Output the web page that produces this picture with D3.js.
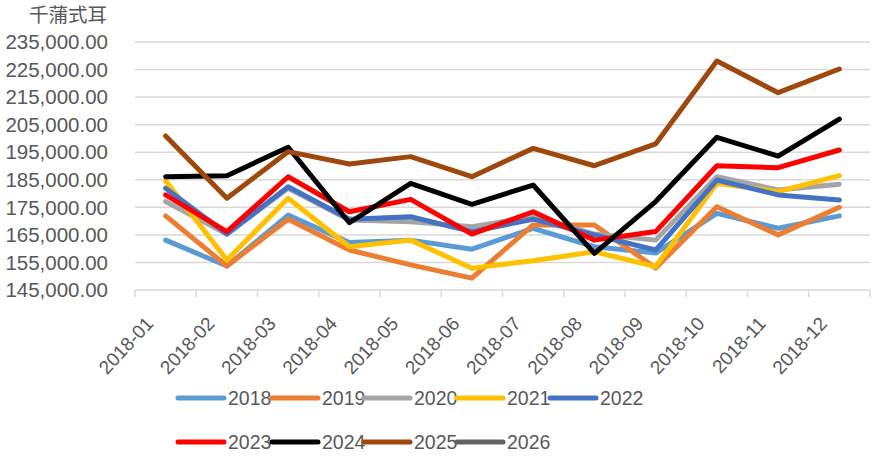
<!DOCTYPE html>
<html>
<head>
<meta charset="utf-8">
<script src="https://cdn.jsdelivr.net/npm/d3@7"></script>
<style>
body{margin:0;background:#fff;}
svg text{font-family:"Liberation Sans","Noto Sans CJK SC",sans-serif;fill:#595959;}
</style>
</head>
<body>
<svg id="chart" width="881" height="459"></svg>
<script>
const months = ["2018-01","2018-02","2018-03","2018-04","2018-05","2018-06","2018-07","2018-08","2018-09","2018-10","2018-11","2018-12"];
const yTicks = [145000,155000,165000,175000,185000,195000,205000,215000,225000,235000];
const seriesNames = ["2018","2019","2020","2021","2022","2023","2024","2025","2026"];
const seriesColors = ["#5B9BD5","#ED7D31","#A5A5A5","#FFC000","#4472C4","#FF0000","#000000","#9E480E","#636363"];
const v2018 = [163100,153700,172200,162200,163100,159800,167400,160700,158400,172800,167400,171900];
const v2019 = [171900,153700,170700,159500,154100,149300,168600,168600,153000,175200,165000,175000];
const v2020 = [177100,165300,181900,170400,169800,168000,171600,165300,163100,186100,181300,183400];
const v2021 = [184600,155900,178300,160700,163100,152900,155600,158900,153500,183700,180700,186500];
const v2022 = [181900,165300,182500,170700,171600,166200,170700,165000,159500,184900,179500,177700];
const v2023 = [179500,166200,186100,173400,177900,165300,173400,163100,166200,190100,189400,195800];
const v2024 = [186100,186500,196800,169400,183700,176100,183100,158300,177100,200400,193600,207000];
const v2025 = [200900,178300,195200,190700,193400,186100,196400,190100,198000,228100,216600,225200];
const v2026 = [];
const seriesValues = [v2018,v2019,v2020,v2021,v2022,v2023,v2024,v2025,v2026];
const unitLabel = "千蒲式耳";

(function(){
const svg = d3.select("#chart");
const pL = 135, pR = 870, pT = 42, pB = 290;
const x = d3.scaleBand().domain(months).range([pL, pR]).padding(0);
const y = d3.scaleLinear().domain([145000, 235000]).range([pB, pT]);

svg.append("g").selectAll("line").data(yTicks.slice(1)).join("line")
  .attr("x1", pL).attr("x2", pR)
  .attr("y1", d => y(d)).attr("y2", d => y(d))
  .attr("stroke", "#d9d9d9").attr("stroke-width", 1.5);

const fmt = d3.format(",.2f");
svg.append("g").selectAll("text").data(yTicks).join("text")
  .attr("x", 108).attr("y", d => y(d)).attr("dy", "0.35em")
  .attr("text-anchor", "end").attr("font-size", 20.5)
  .text(d => fmt(d));

svg.append("text").attr("x", 107).attr("y", 22).attr("text-anchor", "end")
  .attr("font-size", 19.5).style("font-family", '"Noto Sans CJK SC",sans-serif')
  .text(unitLabel);

const gx = svg.append("g").attr("transform", `translate(0,${pB})`);
gx.append("line").attr("x1", pL).attr("x2", pR).attr("stroke", "#d9d9d9").attr("stroke-width", 1.5);
const boundaries = months.map(m => x(m)).concat([pR]);
gx.selectAll("line.tk").data(boundaries).join("line").attr("class","tk")
  .attr("x1", d => d).attr("x2", d => d).attr("y1", 0).attr("y2", 7)
  .attr("stroke", "#d9d9d9").attr("stroke-width", 1.5);
gx.selectAll("text").data(months).join("text")
  .attr("transform", d => `translate(${x(d) + x.bandwidth()/2 - 16},${30}) rotate(-47)`)
  .attr("text-anchor", "end").attr("dy", "0.35em").attr("font-size", 19)
  .text(d => d);

const line = d3.line().x((d, i) => x(months[i]) + x.bandwidth()/2).y(d => y(d));
seriesNames.forEach((name, i) => {
  const vals = seriesValues[i];
  if (!vals.length) return;
  svg.append("path").datum(vals)
    .attr("d", line).attr("fill", "none")
    .attr("stroke", seriesColors[i]).attr("stroke-width", 5)
    .attr("stroke-linejoin", "round").attr("stroke-linecap", "round");
});

const legX = [178, 272, 364, 457, 550];
const legY = [398, 442];
seriesNames.forEach((name, i) => {
  const row = Math.floor(i / 5), col = i % 5;
  const g = svg.append("g").attr("transform", `translate(${legX[col]},${legY[row]})`);
  g.append("line").attr("x1", 0).attr("x2", 46).attr("y1", 0).attr("y2", 0)
    .attr("stroke", seriesColors[i]).attr("stroke-width", 5).attr("stroke-linecap", "round");
  g.append("text").attr("x", 50).attr("y", 0).attr("dy", "0.35em").attr("font-size", 19.5).text(name);
});
})();
</script>
</body>
</html>
